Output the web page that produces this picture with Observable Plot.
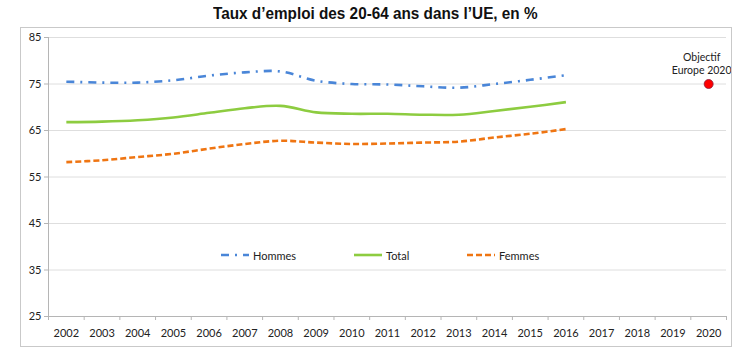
<!DOCTYPE html>
<html>
<head>
<meta charset="utf-8">
<script src="https://cdn.jsdelivr.net/npm/d3@7"></script>
<script src="https://cdn.jsdelivr.net/npm/@observablehq/plot@0.6"></script>
<style>
  body { margin: 0; background: #fff; }
  #wrap { position: relative; width: 750px; height: 360px; overflow: hidden; }
  #title { height: 27px; line-height: 27px; text-align: center; font-family: "Liberation Sans Narrow", "Liberation Sans", Arial, sans-serif; font-weight: bold; font-size: 17px; color: #111; }
  #title span { display: inline-block; transform: scaleX(0.9); transform-origin: center; }
  #frame { position: absolute; left: 20px; top: 27px; width: 710px; height: 318px; border: 1.5px solid #c9c9c9; pointer-events: none; }
  #legend { position: absolute; top: 248px; left: 0; font-family: Lato, "Open Sans", sans-serif; font-size: 11px; color: #222; }
  .item { position: absolute; display: flex; align-items: center; white-space: nowrap; }
  .item svg { margin-right: 3px; }
</style>
</head>
<body>
<div id="wrap">
  <div id="title"><span>Taux d’emploi des 20-64 ans dans l’UE, en %</span></div>
  <div id="chart"></div>
  <div id="frame"></div>
  <div id="legend"></div>
</div>
<script>
const years = [2002,2003,2004,2005,2006,2007,2008,2009,2010,2011,2012,2013,2014,2015,2016];
const allYears = d3.range(2002, 2021);
const hommes = [75.5,75.3,75.3,75.8,76.8,77.5,77.7,75.7,75.0,74.9,74.5,74.2,75.0,75.9,76.9];
const total  = [66.8,66.9,67.2,67.8,68.8,69.8,70.3,68.9,68.6,68.6,68.4,68.4,69.2,70.1,71.1];
const femmes = [58.2,58.6,59.3,60.0,61.1,62.1,62.8,62.4,62.1,62.2,62.4,62.6,63.5,64.3,65.3];
const yTicks = [25,35,45,55,65,75,85];
const targetYear = [2020];
const targetValue = [75];
const targetLabel = "Objectif\nEurope 2020";

const series = [
  {name: "Hommes", values: hommes, color: "#4a86d8", dash: "8,6,2,6"},
  {name: "Total", values: total, color: "#8dcc40", dash: null},
  {name: "Femmes", values: femmes, color: "#ef7512", dash: "6,3"}
];
const rows = name => {
  const s = series.find(d => d.name === name);
  return years.map((y, i) => ({year: y, value: s.values[i]}));
};
const edges = d3.range(2001.5, 2021, 1);
const target = targetYear.map((y, i) => ({year: y, value: targetValue[i]}));

const font = "Lato, 'Open Sans', sans-serif";
const chart = Plot.plot({
  width: 750,
  height: 333,
  marginLeft: 48,
  marginRight: 24,
  marginTop: 10,
  marginBottom: 44,
  style: {fontFamily: font, fontSize: "11px", color: "#222", background: "transparent"},
  x: {type: "linear", domain: [2001.5, 2020.5]},
  y: {domain: [25, 85]},
  marks: [
    Plot.gridY(yTicks, {stroke: "#dedede", strokeOpacity: 1}),
    Plot.ruleY([25], {stroke: "#b5b5b5"}),
    Plot.ruleX([2001.5], {stroke: "#b5b5b5"}),
    Plot.axisY(yTicks, {tickSize: 4, stroke: "#b5b5b5", tickPadding: 3, label: null, fill: "#222"}),
    Plot.axisX(edges, {tickSize: 4, stroke: "#b5b5b5", tickFormat: () => "", label: null}),
    Plot.axisX(allYears, {tickSize: 0, tickPadding: 13, tickFormat: d => String(d), label: null, fill: "#222"}),
    ...series.map(s => Plot.line(rows(s.name), {
      x: "year", y: "value", stroke: s.color, strokeWidth: 2.6,
      strokeDasharray: s.dash, curve: "catmull-rom", strokeLinecap: "butt"
    })),
    Plot.dot(target, {x: "year", y: "value", r: 4.5, fill: "#ff0000", stroke: "#8b1a3a", strokeWidth: 0.8}),
    Plot.text(target, {x: "year", y: "value", text: () => targetLabel, dy: -21, dx: -7, lineHeight: 1.27, fontSize: 10.5, fill: "#222"})
  ]
});
document.getElementById("chart").appendChild(chart);

// legend
const legend = document.getElementById("legend");
const legendPos = {Hommes: 220, Total: 353, Femmes: 466};
series.forEach(s => {
  const div = document.createElement("div");
  div.className = "item";
  div.style.left = legendPos[s.name] + "px";
  div.style.top = "0px";
  const svg = d3.create("svg").attr("width", 30).attr("height", 14);
  svg.append("line").attr("x1", 1).attr("x2", 29).attr("y1", 7).attr("y2", 7)
    .attr("stroke", s.color).attr("stroke-width", 2.6)
    .attr("stroke-dasharray", s.dash);
  div.appendChild(svg.node());
  const span = document.createElement("span");
  span.textContent = s.name;
  div.appendChild(span);
  legend.appendChild(div);
});
</script>
</body>
</html>
